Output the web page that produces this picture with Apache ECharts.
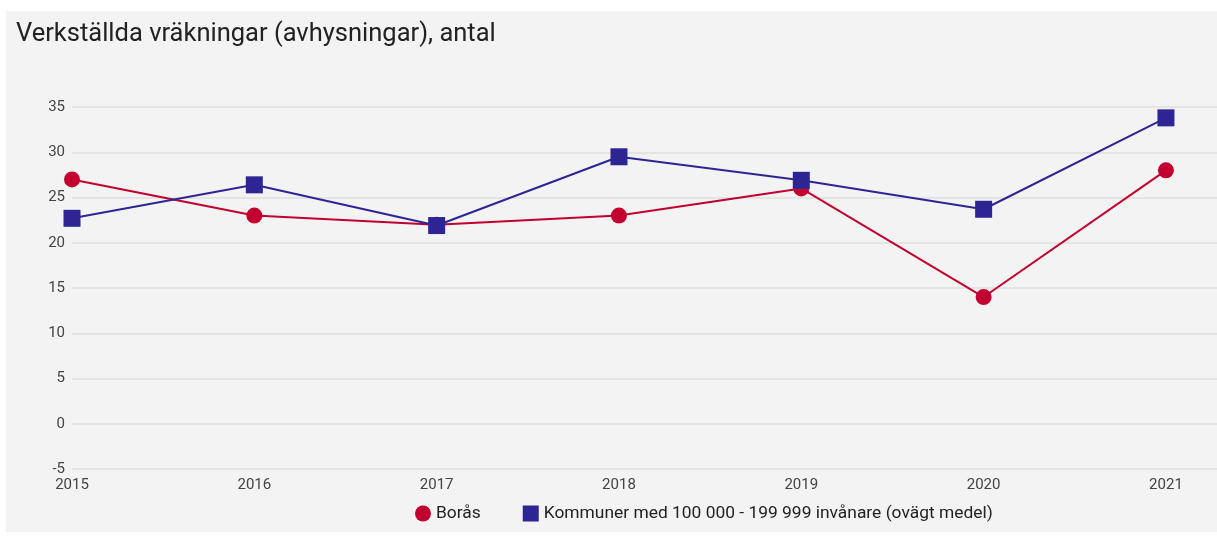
<!DOCTYPE html>
<html>
<head>
<meta charset="utf-8">
<script src="https://cdn.jsdelivr.net/npm/echarts@6/dist/echarts.min.js"></script>
<style>
html,body{margin:0;padding:0;background:#ffffff;}
#chart{position:absolute;left:6px;top:11px;width:1211px;height:521px;background:#f3f3f3;}
</style>
</head>
<body>
<div id="chart"></div>
<script>
const titleText = 'Verkställda vräkningar (avhysningar), antal';
const years = [2015, 2016, 2017, 2018, 2019, 2020, 2021];
const borasName = 'Borås';
const borasValues = [27, 23, 22, 23, 26, 14, 28];
const kommunName = 'Kommuner med 100 000 - 199 999 invånare (ovägt medel)';
const kommunValues = [22.7, 26.4, 21.9, 29.5, 26.9, 23.7, 33.8];
const yTicks = [-5, 0, 5, 10, 15, 20, 25, 30, 35];

const chart = echarts.init(document.getElementById('chart'), null, {renderer: 'canvas'});
const font = 'Roboto, "Noto Sans", sans-serif';
chart.setOption({
  backgroundColor: '#f3f3f3',
  animation: false,
  title: {
    text: titleText,
    left: 5, top: 6,
    textStyle: {fontFamily: font, fontSize: 25.5, fontWeight: 'normal', color: '#222222'}
  },
  legend: {
    bottom: 5,
    left: 404,
    itemWidth: 16, itemHeight: 16, itemGap: 42,
    textStyle: {fontFamily: font, fontSize: 17.4, color: '#222222'},
    data: [
      {name: borasName, icon: 'circle'},
      {name: kommunName, icon: 'rect'}
    ]
  },
  grid: {left: 66, right: 0, top: 96, bottom: 63, containLabel: false},
  xAxis: {
    type: 'value',
    min: years[0],
    max: years[years.length - 1] + 0.28,
    interval: 1,
    axisLine: {show: false},
    axisTick: {show: false},
    splitLine: {show: false},
    axisLabel: {
      fontFamily: font, fontSize: 15, color: '#444444', margin: 9,
      showMaxLabel: false,
      formatter: v => Number.isInteger(v) ? String(v) : ''
    }
  },
  yAxis: {
    type: 'value',
    min: yTicks[0], max: yTicks[yTicks.length - 1], interval: 5,
    axisLine: {show: false},
    axisTick: {show: false},
    splitLine: {lineStyle: {color: '#e4e4e4', width: 2}},
    axisLabel: {fontFamily: font, fontSize: 15, color: '#444444', margin: 7}
  },
  series: [
    {
      name: borasName, type: 'line',
      data: years.map((y, i) => [y, borasValues[i]]),
      symbol: 'circle', symbolSize: 16,
      itemStyle: {color: '#c1002f'},
      lineStyle: {color: '#c1002f', width: 2},
      z: 2
    },
    {
      name: kommunName, type: 'line',
      data: years.map((y, i) => [y, kommunValues[i]]),
      symbol: 'rect', symbolSize: 17,
      itemStyle: {color: '#2d2593'},
      lineStyle: {color: '#2d2593', width: 2},
      z: 3
    }
  ]
});
</script>
</body>
</html>
